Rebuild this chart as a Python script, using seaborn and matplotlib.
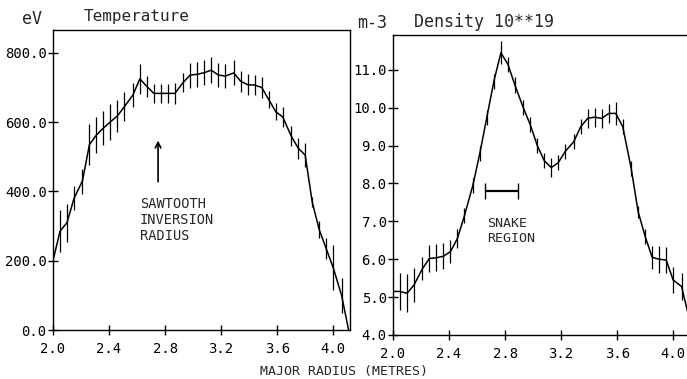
import matplotlib
matplotlib.use('Agg')
import matplotlib.pyplot as plt
import seaborn as sns

# radius points (m), shared by both profiles
radius = [2.00, 2.05, 2.10, 2.15, 2.21, 2.26, 2.31, 2.36, 2.41, 2.46,
          2.51, 2.57, 2.62, 2.67, 2.72, 2.77, 2.82, 2.87, 2.93, 2.98,
          3.03, 3.08, 3.13, 3.18, 3.23, 3.29, 3.34, 3.39, 3.44, 3.49,
          3.54, 3.59, 3.64, 3.70, 3.75, 3.80, 3.85, 3.90, 3.95, 4.00,
          4.06, 4.11]

temp = [200, 285, 310, 380, 430, 535, 563, 583, 601, 618,
        645, 678, 725, 703, 683, 683, 683, 683, 715, 736,
        738, 743, 750, 736, 733, 742, 718, 708, 707, 700,
        665, 630, 615, 560, 525, 505, 370, 290, 235, 180,
        100, 0]
temp_err = [0, 60, 55, 35, 36, 60, 53, 48, 52, 46,
            41, 35, 43, 30, 28, 28, 28, 30, 28, 36,
            36, 35, 38, 35, 35, 36, 30, 30, 30, 30,
            25, 25, 30, 30, 30, 35, 15, 25, 30, 65,
            50, 0]

density = [5.15, 5.15, 5.10, 5.32, 5.75, 6.02, 6.04, 6.08, 6.20, 6.55,
           7.15, 7.95, 8.80, 9.75, 10.7, 11.45, 11.15, 10.6, 10.0, 9.55,
           9.00, 8.60, 8.42, 8.55, 8.85, 9.10, 9.50, 9.72, 9.75, 9.72,
           9.85, 9.85, 9.50, 8.40, 7.25, 6.60, 6.05, 6.00, 5.98, 5.45,
           5.28, 4.50]
dens_err = [0, 0.5, 0.5, 0.45, 0.3, 0.35, 0.35, 0.35, 0.3, 0.25,
            0.2, 0.2, 0.2, 0.2, 0.2, 0.3, 0.2, 0.2, 0.2, 0.2,
            0.2, 0.2, 0.25, 0.2, 0.2, 0.2, 0.2, 0.25, 0.25, 0.25,
            0.25, 0.3, 0.2, 0.2, 0.15, 0.2, 0.3, 0.35, 0.35, 0.35,
            0.35, 0]

x_ticks = [2.0, 2.4, 2.8, 3.2, 3.6, 4.0]
temp_ticks = [0, 200, 400, 600, 800]
dens_ticks = [4, 5, 6, 7, 8, 9, 10, 11]

sns.set_style('ticks')
plt.rcParams['font.family'] = ['DejaVu Sans Mono', 'DejaVu Sans']

W, H = 687, 379
fig = plt.figure(figsize=(W / 100, H / 100), dpi=100)

def px_axes(x0, y0, x1, y1):
    return fig.add_axes([x0 / W, 1 - y1 / H, (x1 - x0) / W, (y1 - y0) / H])

ax1 = px_axes(53, 30, 350, 330)
ax2 = px_axes(393, 35, 690, 335)

for ax, y, err in [(ax1, temp, temp_err), (ax2, density, dens_err)]:
    sns.lineplot(x=radius, y=y, ax=ax, color='black', lw=1.1)
    ax.errorbar(radius, y, yerr=err, fmt='none', ecolor='black', elinewidth=0.9)
    ax.set_xticks(x_ticks)
    ax.set_xticklabels([f'{t:.1f}' for t in x_ticks])
    ax.tick_params(direction='inout', length=7, width=1, labelsize=10, colors='black')
    ax.tick_params(axis='x', pad=5)
    ax.tick_params(axis='y', pad=1)
    for s in ax.spines.values():
        s.set_color('black')
        s.set_linewidth(1.0)

ax1.set_xlim(2.0, 4.12)
ax1.set_ylim(0, 866)
ax1.set_yticks(temp_ticks)
ax1.set_yticklabels([f'{t:.1f}' for t in temp_ticks])

ax2.set_xlim(2.0, 4.12)
ax2.set_ylim(4.0, 11.92)
ax2.set_yticks(dens_ticks)
ax2.set_yticklabels([f'{t:.1f}' for t in dens_ticks])
ax2.spines['right'].set_visible(False)

# annotations
ax1.annotate('', xy=(2.75, 555), xytext=(2.75, 420),
             arrowprops=dict(arrowstyle='->', color='black', lw=1.2))
ax1.text(2.62, 385, 'SAWTOOTH\nINVERSION\nRADIUS', fontsize=9.8, va='top', ha='left',
         linespacing=1.2)

ax2.errorbar([2.775], [7.8], xerr=[0.115], fmt='none', ecolor='black',
             elinewidth=1.6, capsize=6, capthick=1.0)
ax2.text(2.67, 7.12, 'SNAKE\nREGION', fontsize=9.6, va='top', ha='left', linespacing=1.2)

# headers
fig.text(22 / W, 1 - 19 / H, 'eV', fontsize=12, va='center', ha='left')
fig.text(84 / W, 1 - 17 / H, 'Temperature', fontsize=11.5, va='center', ha='left')
fig.text(357 / W, 1 - 23 / H, 'm-3', fontsize=12, va='center', ha='left')
fig.text(414 / W, 1 - 22 / H, 'Density 10**19', fontsize=12, va='center', ha='left')
fig.text(344 / W, 1 - 371 / H, 'MAJOR RADIUS (METRES)', fontsize=9.5, va='center', ha='center')

fig.savefig('out.png', dpi=100, facecolor='white')
